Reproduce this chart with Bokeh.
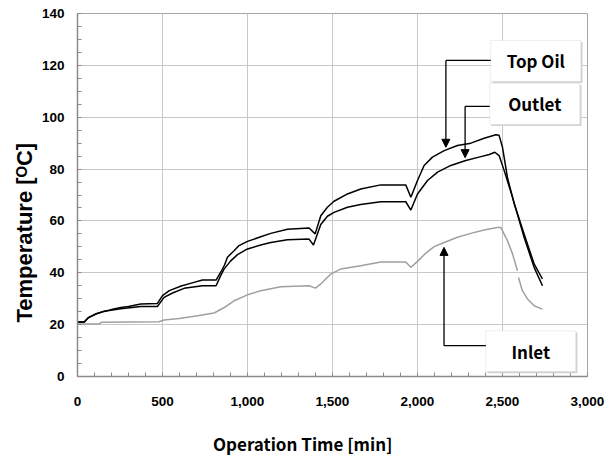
from bokeh.plotting import figure
from bokeh.models import (Range1d, FixedTicker, NumeralTickFormatter, BoxAnnotation,
                          Label, Arrow, NormalHead, Title)
from bokeh.embed import file_html
from bokeh.resources import INLINE

nan = float("nan")

# Temperature logs over operation time [min]
top_oil_t = [0, 40, 60, 90, 110, 150, 200, 255, 300, 372, 470, 500, 540, 610, 680, 735,
             815, 845, 865, 882, 921, 950, 1000, 1078, 1137, 1235, 1362, 1398, 1431, 1470,
             1509, 1588, 1666, 1784, 1931, 1961, 2000, 2039, 2088, 2157, 2235, 2314, 2392,
             2461, 2480, 2500, 2529, 2569, 2627, 2686, 2735]
top_oil_c = [21.0, 21.0, 22.5, 23.5, 24.2, 25.0, 25.8, 26.6, 27.0, 28.0, 28.2, 31.2, 33.1,
             34.9, 36.2, 37.2, 37.2, 40.5, 43.0, 46.0, 48.5, 50.5, 52.1, 53.9, 55.2, 56.8,
             57.3, 55.0, 62.0, 65.3, 67.6, 70.4, 72.3, 73.9, 73.9, 69.1, 75.6, 81.4, 84.6,
             87.1, 89.1, 90.0, 91.9, 93.2, 93.0, 88.4, 76.8, 66.6, 55.0, 43.4, 37.6]

outlet_t = [0, 40, 65, 108, 157, 255, 372, 470, 509, 559, 627, 735, 815, 843, 863, 900,
            941, 1000, 1078, 1137, 1235, 1362, 1388, 1431, 1470, 1509, 1588, 1666, 1784,
            1931, 1961, 2000, 2059, 2118, 2196, 2284, 2373, 2422, 2455, 2480, 2510, 2559,
            2627, 2686, 2735]
outlet_c = [21.0, 21.0, 22.8, 24.1, 25.2, 26.1, 27.0, 27.0, 30.5, 32.2, 34.0, 35.0, 35.0,
            39.0, 41.5, 44.5, 47.0, 49.2, 50.7, 51.7, 52.7, 53.0, 50.7, 58.6, 61.8, 63.3,
            65.3, 66.3, 67.4, 67.4, 64.2, 70.4, 75.6, 78.8, 81.4, 83.3, 84.8, 85.6, 86.5,
            85.2, 79.4, 69.1, 53.7, 42.1, 35.0]

# the inlet record has a short gap during cool-down
inlet_t = [0, 130, 140, 480, 509, 598, 706, 804, 863, 921, 1000, 1078, 1196, 1362, 1400,
           1431, 1490, 1549, 1666, 1784, 1931, 1961, 2000, 2049, 2098, 2157, 2235, 2314,
           2392, 2470, 2490, 2529, 2559, 2588, nan, 2594, 2617, 2647, 2686, 2735]
inlet_c = [20.2, 20.2, 20.9, 21.1, 21.8, 22.4, 23.4, 24.5, 26.6, 29.2, 31.5, 33.1, 34.6,
           35.0, 34.1, 35.7, 39.5, 41.5, 42.7, 44.2, 44.2, 42.1, 44.4, 47.6, 50.1, 51.7,
           53.7, 55.2, 56.5, 57.5, 57.5, 52.4, 47.3, 40.8, nan, 38.2, 33.1, 29.9, 27.3, 26.0]

x_ticks = [0, 500, 1000, 1500, 2000, 2500, 3000]
y_ticks = [0, 20, 40, 60, 80, 100, 120, 140]

p = figure(width=616, height=459, output_backend="svg", toolbar_location=None,
           x_range=Range1d(0, 3000), y_range=Range1d(0, 140),
           min_border_left=77, min_border_right=29, min_border_top=13,
           min_border_bottom=83)
p.background_fill_color = "white"
p.border_fill_color = "white"
p.outline_line_color = "#a6a6a6"
p.outline_line_width = 1

p.xaxis.ticker = FixedTicker(ticks=x_ticks, minor_ticks=list(range(0, 3001, 100)))
p.yaxis.ticker = FixedTicker(ticks=y_ticks, minor_ticks=list(range(0, 141, 5)))
p.xaxis.formatter = NumeralTickFormatter(format="0,0")

for ax in (p.xaxis, p.yaxis):
    ax.axis_line_color = "#8c8c8c"
    ax.axis_line_width = 1.5
    ax.major_tick_in = 0
    ax.major_tick_out = 0
    ax.minor_tick_in = 4
    ax.minor_tick_out = 0
    ax.minor_tick_line_color = "#8c8c8c"
    ax.major_label_text_font = "Liberation Sans"
    ax.major_label_text_font_style = "bold"
    ax.major_label_text_font_size = "13.5px"
    ax.major_label_text_color = "black"

p.yaxis.major_label_standoff = 13
p.xaxis.major_label_standoff = 20

# x title sits a little left of the frame centre; trailing em/en spaces shift it
p.xaxis.axis_label = "Operation Time [min]\u2003\u2003\u2003\u2002"
p.xaxis.axis_label_text_font = "Noto Sans CJK KR"
p.xaxis.axis_label_text_font_style = "bold"
p.xaxis.axis_label_text_font_size = "17px"
p.xaxis.axis_label_text_color = "black"
p.xaxis.axis_label_standoff = 22

p.grid.grid_line_color = "#c8c8c8"
p.grid.grid_line_width = 1

p.line(top_oil_t, top_oil_c, line_color="black", line_width=1.5)
p.line(outlet_t, outlet_c, line_color="black", line_width=1.5)
p.line(inlet_t, inlet_c, line_color="#a0a0a0", line_width=1.5)

# y title in the left panel, shifted down along the axis
p.add_layout(Title(text="Temperature [ᴼC]", align="left", offset=54,
                   vertical_align="middle", standoff=2, text_font="Liberation Sans",
                   text_font_style="bold", text_font_size="22px", text_color="black"),
             "left")

# callout boxes: (label, left, right, bottom, top, arrow y, arrow x, arrow tip y)
callouts = [
    ("Top Oil", 2431, 2961, 113.8, 129.6, 121.9, 2167, 88.4),
    ("Outlet", 2425, 2955, 97.2, 113.1, 104.2, 2280, 84.4),
    ("Inlet", 2402, 2931, 1.9, 17.6, 11.9, 2156, 49.8),
]
for name, l, r, b, t, ay, ax_, tip in callouts:
    p.add_layout(BoxAnnotation(left=l + 10, right=r + 10, bottom=b - 0.6, top=t - 0.6,
                               fill_color="#d4d4d4", fill_alpha=1.0, line_color=None))
    p.add_layout(BoxAnnotation(left=l, right=r, bottom=b, top=t, fill_color="white",
                               fill_alpha=1.0, line_color="#c4c4c4", line_width=1))
    p.add_layout(Label(x=(l + r) / 2, y=(b + t) / 2, text=name, text_align="center",
                       text_baseline="middle", text_font="Noto Sans CJK KR",
                       text_font_style="bold", text_font_size="17px", text_color="black"))
    p.add_layout(Arrow(end=None, x_start=l, y_start=ay, x_end=ax_, y_end=ay,
                       line_color="black", line_width=1.3))
    p.add_layout(Arrow(end=NormalHead(size=8, fill_color="black", line_color="black"),
                       x_start=ax_, y_start=ay, x_end=ax_, y_end=tip,
                       line_color="black", line_width=1.3))

open("out.html", "w").write(file_html(p, INLINE))
